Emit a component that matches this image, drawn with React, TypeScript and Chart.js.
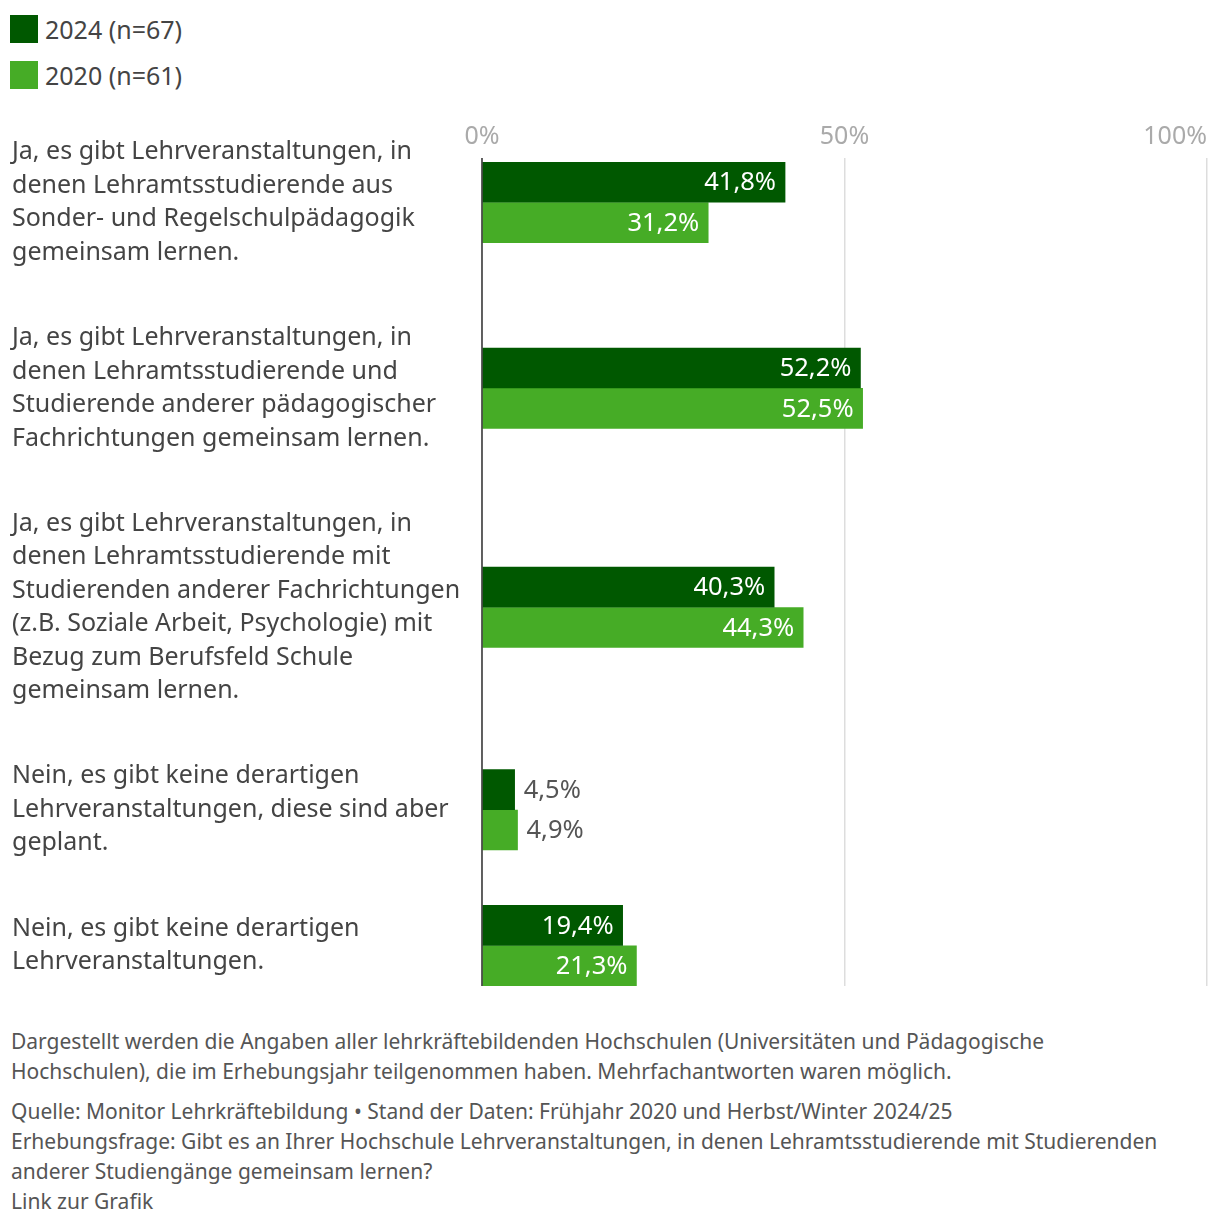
import React, { useEffect, useRef } from "react";
import { Chart, registerables } from "chart.js";
Chart.register(...registerables);

const categories: string[][] = [
  ["Ja, es gibt Lehrveranstaltungen, in", "denen Lehramtsstudierende aus", "Sonder- und Regelschulpädagogik", "gemeinsam lernen."],
  ["Ja, es gibt Lehrveranstaltungen, in", "denen Lehramtsstudierende und", "Studierende anderer pädagogischer", "Fachrichtungen gemeinsam lernen."],
  ["Ja, es gibt Lehrveranstaltungen, in", "denen Lehramtsstudierende mit", "Studierenden anderer Fachrichtungen", "(z.B. Soziale Arbeit, Psychologie) mit", "Bezug zum Berufsfeld Schule", "gemeinsam lernen."],
  ["Nein, es gibt keine derartigen", "Lehrveranstaltungen, diese sind aber", "geplant."],
  ["Nein, es gibt keine derartigen", "Lehrveranstaltungen."],
];
const values2024 = [41.8, 52.2, 40.3, 4.5, 19.4];
const values2020 = [31.2, 52.5, 44.3, 4.9, 21.3];
const seriesNames = ["2024 (n=67)", "2020 (n=61)"];
const tickValues = [0, 50, 100];

const C_DARK = "#005800";
const C_LIGHT = "#46ac26";
const FONT = "'Noto Sans', sans-serif";

// category centres derived from label line counts
const centers: number[] = [];
categories.forEach((c, i) => {
  if (i === 0) centers.push(0);
  else centers.push(centers[i - 1] + ((categories[i - 1].length + c.length) / 2) * 33 + 52);
});

export default function App() {
  const ref = useRef<HTMLCanvasElement>(null);
  useEffect(() => {
    document.body.style.margin = "0";
    const fmt = (v: number) => v.toFixed(1).replace(".", ",") + "%";
    const plugin = {
      id: "custom",
      afterDatasetsDraw(chart: any) {
        const ctx = chart.ctx;
        const x = chart.scales.x;
        const y = chart.scales.y;
        ctx.save();
        ctx.font = `25.5px ${FONT}`;
        ctx.textBaseline = "middle";
        chart.data.datasets.forEach((ds: any, di: number) => {
          const meta = chart.getDatasetMeta(di);
          meta.data.forEach((bar: any, i: number) => {
            const v = ds.data[i].x;
            const t = fmt(v);
            const w = ctx.measureText(t).width;
            const len = bar.x - x.getPixelForValue(0);
            if (len > w + 16) {
              ctx.fillStyle = "#fff";
              ctx.textAlign = "right";
              ctx.fillText(t, bar.x - 9, bar.y + 1);
            } else {
              ctx.fillStyle = "#555";
              ctx.textAlign = "left";
              ctx.fillText(t, bar.x + 9, bar.y + 1);
            }
          });
        });
        // tick labels
        ctx.font = `25px ${FONT}`;
        ctx.fillStyle = "#aaa";
        tickValues.forEach((tv, i) => {
          ctx.textAlign = i === tickValues.length - 1 ? "right" : "center";
          ctx.fillText(tv + "%", x.getPixelForValue(tv), chart.chartArea.top - 21);
        });
        // category labels
        ctx.fillStyle = "#444";
        ctx.textAlign = "left";
        const lh = 33.5;
        categories.forEach((lines, i) => {
          const cy = y.getPixelForValue(centers[i]);
          const start = cy - ((lines.length - 1) * lh) / 2;
          lines.forEach((l, j) => ctx.fillText(l, 12, start + j * lh));
        });
        // zero axis line
        ctx.strokeStyle = "#333";
        ctx.lineWidth = 1.5;
        const x0 = x.getPixelForValue(0);
        ctx.beginPath();
        ctx.moveTo(x0, chart.chartArea.top);
        ctx.lineTo(x0, chart.chartArea.bottom);
        ctx.stroke();
        ctx.restore();
      },
    };
    const chart = new Chart(ref.current!, {
      type: "bar",
      data: {
        datasets: [
          { label: seriesNames[0], data: values2024.map((v, i) => ({ x: v, y: centers[i] - 20 })), backgroundColor: C_DARK, grouped: false, barThickness: 40 } as any,
          { label: seriesNames[1], data: values2020.map((v, i) => ({ x: v, y: centers[i] + 20 })), backgroundColor: C_LIGHT, grouped: false, barThickness: 40 } as any,
        ],
      },
      options: {
        indexAxis: "y",
        animation: false,
        responsive: false,
        layout: { padding: { left: 482, right: 13, top: 58, bottom: 2 } },
        plugins: { legend: { display: false }, tooltip: { enabled: false } },
        scales: {
          x: {
            type: "linear", position: "top", min: 0, max: 100,
            ticks: { display: false, stepSize: 50 },
            grid: { color: "#ddd", lineWidth: 1.5, drawTicks: false },
            border: { display: false },
          },
          y: {
            type: "linear", reverse: true, display: false, offset: false,
            min: centers[0] - 44, max: centers[centers.length - 1] + 40,
          },
        },
      },
      plugins: [plugin],
    } as any);
    return () => chart.destroy();
  }, []);

  const legendItem = (color: string, text: string) => (
    <div style={{ display: "flex", alignItems: "center", height: 46 }}>
      <div style={{ width: 28, height: 28, background: color, marginRight: 7 }} />
      <span style={{ fontSize: 25, color: "#444" }}>{text}</span>
    </div>
  );

  return (
    <div style={{ width: 1220, fontFamily: FONT, color: "#555", position: "relative" }}>
      <div style={{ position: "absolute", left: 10, top: 6 }}>
        {legendItem(C_DARK, seriesNames[0])}
        {legendItem(C_LIGHT, seriesNames[1])}
      </div>
      <canvas ref={ref} width={1220} height={888} style={{ position: "absolute", left: 0, top: 100, width: 1220, height: 888 }} />
      <div style={{ position: "absolute", left: 11, top: 1026, width: 1195, fontSize: 21, lineHeight: "30px", color: "#555" }}>
        <div style={{ width: 1090 }}>Dargestellt werden die Angaben aller lehrkräftebildenden Hochschulen (Universitäten und Pädagogische Hochschulen), die im Erhebungsjahr teilgenommen haben. Mehrfachantworten waren möglich.</div>
        <div style={{ marginTop: 10 }}>Quelle: Monitor Lehrkräftebildung • Stand der Daten: Frühjahr 2020 und Herbst/Winter 2024/25</div>
        <div>Erhebungsfrage: Gibt es an Ihrer Hochschule Lehrveranstaltungen, in denen Lehramtsstudierende mit Studierenden anderer Studiengänge gemeinsam lernen?</div>
        <div>Link zur Grafik</div>
      </div>
      <div style={{ height: 1228 }} />
    </div>
  );
}
